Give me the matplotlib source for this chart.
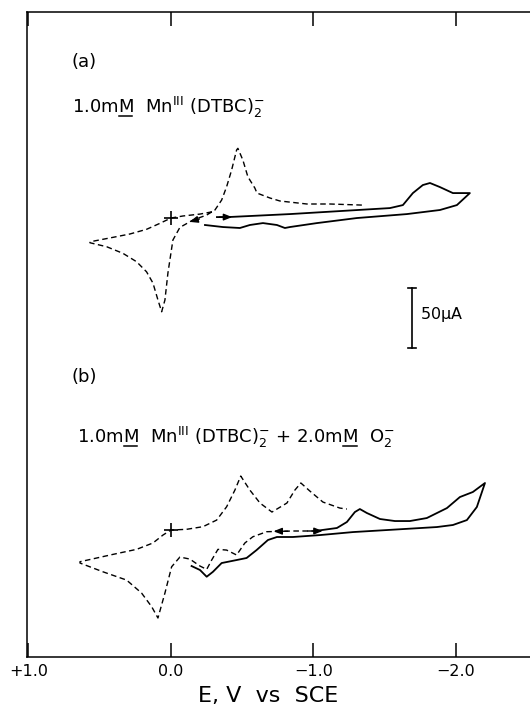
import numpy as np
import matplotlib
matplotlib.use("Agg")
import matplotlib.pyplot as plt

plt.rcParams['font.family'] = ['DejaVu Sans']
plt.rcParams['mathtext.fontset'] = 'dejavusans'
plt.rcParams['mathtext.default'] = 'regular'

# potentials in V vs SCE, currents in uA relative to the "+" start point of each trace

# (a) 1.0 mM Mn(III)(DTBC)2-  -- dashed scan
a_dash_E = [-1.340, -1.116, -0.954, -0.765, -0.695, -0.604, -0.589, -0.540, -0.505, -0.470,
            -0.461, -0.426, -0.391, -0.356, -0.309, -0.251, -0.154, -0.063, -0.014, 0.021,
            0.042, 0.065, 0.091, 0.126, 0.171, 0.241, 0.337, 0.451, 0.568, 0.568,
            0.407, 0.288, 0.171, 0.077, 0.000, -0.084, -0.204, -0.295]
a_dash_I = [10.8, 11.7, 11.7, 14.2, 16.7, 20.8, 25.0, 34.4, 48.3, 58.1,
            56.7, 40.0, 26.1, 15.0, 6.7, 2.5, -1.7, -7.8, -18.3, -45.8,
            -68.3, -78.1, -68.3, -54.2, -44.8, -36.4, -29.4, -23.9, -20.6, -19.8,
            -16.1, -13.3, -9.4, -4.4, 0.0, 1.7, 3.3, 5.3]

# (a) solid scan
a_sol_E = [-0.323, -0.400, -0.835, -1.186, -1.537, -1.628, -1.698, -1.768, -1.818, -1.888,
           -1.979, -2.098, -2.007, -1.888, -1.656, -1.305, -1.025, -0.835, -0.800, -0.744,
           -0.646, -0.554, -0.484, -0.365, -0.239]
a_sol_I = [0.8, 0.8, 3.3, 5.8, 8.3, 10.8, 20.8, 27.5, 29.2, 25.8,
           20.8, 20.8, 10.8, 6.7, 3.3, 0.0, -4.2, -7.5, -8.3, -5.8,
           -4.2, -5.8, -8.3, -7.5, -5.8]

# (b) 1.0 mM Mn(III)(DTBC)2- + 2.0 mM O2-  -- dashed scan
b_dash_E = [-1.025, -0.856, -0.672, -0.575, -0.519, -0.461, -0.391, -0.330, -0.286, -0.251,
            -0.204, -0.133, -0.063, -0.005, 0.042, 0.091, 0.135, 0.206, 0.311, 0.477,
            0.638, 0.638, 0.407, 0.241, 0.126, 0.056, 0.000, -0.110, -0.225, -0.321,
            -0.391, -0.449, -0.490, -0.554, -0.625, -0.709, -0.814, -0.870, -0.912, -0.975,
            -1.067, -1.186, -1.235]
b_dash_I = [-0.8, -0.8, -1.4, -5.6, -10.8, -20.8, -16.7, -16.1, -25.0, -32.8,
            -30.0, -24.2, -22.5, -30.6, -52.5, -73.3, -63.9, -52.5, -41.7, -34.8,
            -27.5, -26.4, -20.3, -16.1, -10.8, -4.2, 0.0, 0.6, 2.8, 8.3,
            19.4, 33.3, 45.0, 33.3, 22.5, 15.0, 22.5, 33.3, 39.2, 32.5,
            23.3, 18.3, 17.5]

# (b) solid scan
b_sol_E = [-1.011, -1.165, -1.235, -1.291, -1.326, -1.375, -1.467, -1.572, -1.677, -1.796,
           -1.937, -2.028, -2.119, -2.204, -2.147, -2.077, -1.979, -1.867, -1.516, -1.277,
           -1.046, -0.856, -0.744, -0.681, -0.601, -0.531, -0.461, -0.356, -0.295, -0.251,
           -0.204, -0.145]
b_sol_I = [-0.8, 1.7, 6.7, 15.0, 17.5, 14.2, 9.2, 7.5, 7.5, 10.0,
           18.3, 27.5, 31.7, 39.2, 19.2, 8.3, 4.2, 2.5, 0.0, -1.7,
           -4.2, -5.8, -5.8, -8.3, -16.7, -23.3, -25.0, -27.5, -34.8, -38.9,
           -33.3, -30.0]

# scan direction arrows: (E tail, E head, I tail, I head)
a_arrows = [(-0.200, -0.130, -0.8, -3.2), (-0.340, -0.430, 0.8, 0.8)]
b_arrows = [(-0.820, -0.720, -1.0, -1.0), (-0.960, -1.065, -0.8, -0.8)]

xticks = [1.0, 0.0, -1.0, -2.0]
xticklabels = ['+1.0', '0.0', '\u22121.0', '\u22122.0']

offset_a = 365.8
offset_b = 105.8

fig = plt.figure(figsize=(5.30, 7.11), dpi=100)
ax = fig.add_axes([27 / 530, 54 / 711, 1 - 27 / 530, 645 / 711])

dash_kw = dict(color='black', lw=1.0, dashes=(4, 2.5))
sol_kw = dict(color='black', lw=1.3)

ax.plot(a_dash_E, np.array(a_dash_I) + offset_a, **dash_kw)
ax.plot(a_sol_E, np.array(a_sol_I) + offset_a, **sol_kw)
ax.plot(b_dash_E, np.array(b_dash_I) + offset_b, **dash_kw)
ax.plot(b_sol_E, np.array(b_sol_I) + offset_b, **sol_kw)

# start points
ax.plot([0.0, 0.0], [offset_a, offset_b], '+', color='black', ms=10, mew=1.2)

for (e0, e1, i0, i1) in a_arrows:
    ax.annotate('', xy=(e1, i1 + offset_a), xytext=(e0, i0 + offset_a),
                arrowprops=dict(arrowstyle='-|>,head_length=0.5,head_width=0.2',
                                color='black', lw=1.0, shrinkA=0, shrinkB=0))
for (e0, e1, i0, i1) in b_arrows:
    ax.annotate('', xy=(e1, i1 + offset_b), xytext=(e0, i0 + offset_b),
                arrowprops=dict(arrowstyle='-|>,head_length=0.5,head_width=0.2',
                                color='black', lw=1.0, shrinkA=0, shrinkB=0))

# 50 uA scale bar
sb_E = -1.691
sb_lo, sb_hi = 257.5, 307.5
ax.plot([sb_E, sb_E], [sb_lo, sb_hi], color='black', lw=1.2)
ax.plot([sb_E + 0.03, sb_E - 0.03], [sb_lo, sb_lo], color='black', lw=1.2)
ax.plot([sb_E + 0.03, sb_E - 0.03], [sb_hi, sb_hi], color='black', lw=1.2)
ax.text(-1.75, 285, '50$\\mu$A', fontsize=11.5, va='center', ha='left')

ax.set_xlim(1.01, -2.52)
ax.set_ylim(0, 537.5)

# labels
fs_lab = 13
label_a = r'1.0mM  Mn$^{III}$ (DTBC)$_{2}^{-}$'
label_b = r'1.0mM  Mn$^{III}$ (DTBC)$_{2}^{-}$ + 2.0mM  O$_{2}^{-}$'
ax.text(0.695, 495.8, '(a)', fontsize=13, va='center', ha='left')
ax.text(0.695, 453, label_a, fontsize=fs_lab, va='baseline', ha='left')
ax.text(0.695, 233, '(b)', fontsize=13, va='center', ha='left')
ax.text(0.66, 178, label_b, fontsize=fs_lab, va='baseline', ha='left')

# underline the molar "M" (mathtext has no \underline)
renderer = fig.canvas.get_renderer()
inv = ax.transData.inverted()


def underline_M(x, y, label, upto):
    pre = ax.text(x, y, label[:upto], fontsize=fs_lab, va='baseline', ha='left')
    bb_pre = pre.get_window_extent(renderer)
    pre.remove()
    m = ax.text(x, y, 'M', fontsize=fs_lab, va='baseline', ha='left')
    w = m.get_window_extent(renderer).width
    m.remove()
    y0 = ax.transData.transform((x, y))[1] - 3
    p0 = inv.transform((bb_pre.x1 - w + 1, y0))
    p1 = inv.transform((bb_pre.x1 - 1, y0))
    ax.plot([p0[0], p1[0]], [p0[1], p1[1]], color='black', lw=1.1)


underline_M(0.695, 453, label_a, label_a.index('M') + 1)
underline_M(0.66, 178, label_b, label_b.index('M') + 1)
underline_M(0.66, 178, label_b, label_b.index('2.0mM') + 5)

ax.set_xticks(xticks)
ax.set_xticklabels(xticklabels, fontsize=11.5)
ax.set_yticks([])
ax.tick_params(axis='x', direction='in', length=10, width=1.1, top=True, pad=5)
ax.set_xlabel('E, V  vs  SCE', fontsize=16, labelpad=5, x=0.48)

ax.spines['right'].set_visible(False)
for s in ['left', 'top', 'bottom']:
    ax.spines[s].set_linewidth(1.1)

fig.savefig('out.png', dpi=100)
